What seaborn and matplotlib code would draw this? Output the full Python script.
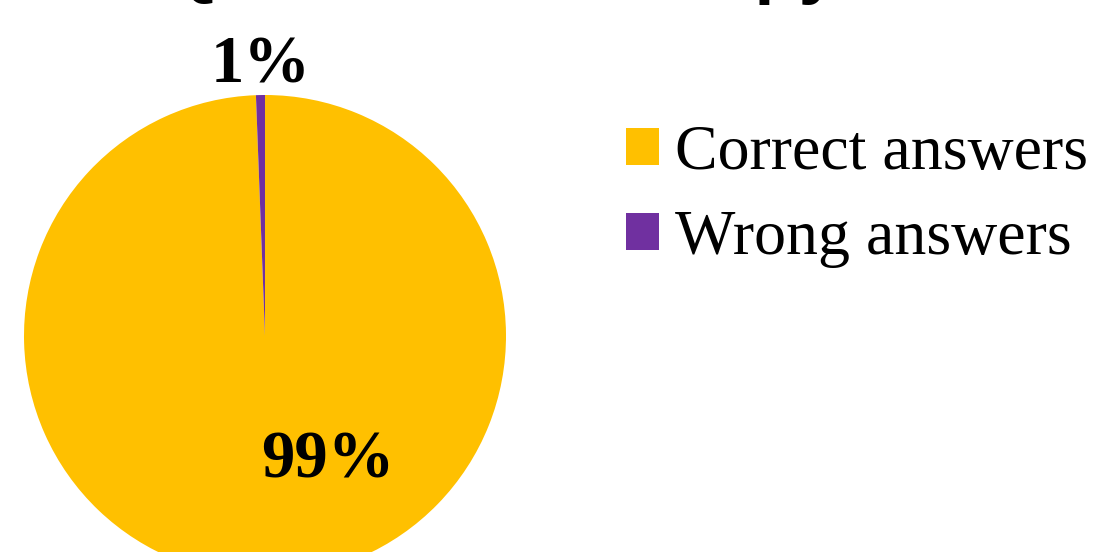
import matplotlib
matplotlib.use("Agg")
import matplotlib.pyplot as plt
import seaborn as sns

# Answer shares (percent)
categories = ["Correct answers", "Wrong answers"]
shares = [99.4, 0.6]
colors = ["#FFC000", "#7030A0"]
title = "Quiz on the therapy"

sns.set_theme(style="white")
plt.rcParams["font.family"] = ["Liberation Serif", "DejaVu Serif"]
plt.rcParams["text.color"] = "black"

W, H, DPI = 1093, 552, 100
fig = plt.figure(figsize=(W / DPI, H / DPI), dpi=DPI, facecolor="white")

# pie: centre (265, 336) px, radius 241 px
cx, cy, r = 265, 336, 241
ax = fig.add_axes([(cx - r) / W, (H - cy - r) / H, 2 * r / W, 2 * r / H])
wedges, _, autotexts = ax.pie(
    shares,
    colors=colors,
    startangle=90,
    counterclock=False,
    radius=1,
    autopct="%.0f%%",
    wedgeprops=dict(linewidth=0),
    textprops=dict(fontsize=48, fontweight="bold", color="black",
                   family="Liberation Serif"),
)
ax.set_xlim(-1, 1)
ax.set_ylim(-1, 1)
ax.set_aspect("equal")
ax.axis("off")

# label placement (data units of the pie)
autotexts[0].set_position((0.26, -0.52))
autotexts[1].set_position((-0.02, 1.12))
for t in autotexts:
    t.set_ha("center")
    t.set_va("center")

# title sits above the visible area; only descenders show
fig.text(501 / W, 1 + 10 / H, title, ha="center", va="baseline",
         fontsize=52, fontweight="bold", family="Liberation Sans",
         color="black")

leg = fig.legend(
    wedges, categories,
    loc="upper left",
    bbox_to_anchor=(626 / W, 1 - 125 / H),
    frameon=False,
    fontsize=46,
    labelcolor="black",
    handlelength=0.52,
    handleheight=0.52,
    handletextpad=0.25,
    labelspacing=0.42,
    borderpad=0,
    borderaxespad=0,
)

fig.savefig("out.png", dpi=DPI, facecolor="white")
